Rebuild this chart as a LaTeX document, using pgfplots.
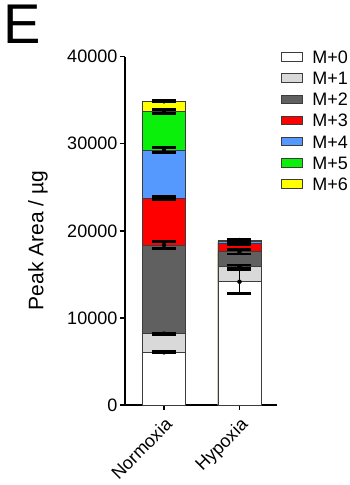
\documentclass[border=0pt]{standalone}
\usepackage{fontspec}
\setmainfont{Liberation Sans}
\usepackage{pgfplots}
\pgfplotsset{compat=1.18}
\definecolor{mzero}{RGB}{255,255,255}
\definecolor{mone}{RGB}{217,217,217}
\definecolor{mtwo}{RGB}{96,96,96}
\definecolor{mthree}{RGB}{255,0,0}
\definecolor{mfour}{RGB}{85,153,255}
\definecolor{mfive}{RGB}{10,240,10}
\definecolor{msix}{RGB}{255,255,0}
\definecolor{edge}{RGB}{60,60,60}
\pgfplotsset{
  mybar/.style={fill=#1, draw=edge, line width=0.8pt, bar shift=0pt},
}
\begin{document}
\begin{tikzpicture}
\useasboundingbox (0pt,0pt) rectangle (350pt,485pt);
\node[anchor=north west, inner sep=0pt, font=\fontsize{56}{56}\selectfont] at (3.5pt,480pt) {E};
\begin{axis}[
  at={(125pt,80pt)}, anchor=south west,
  scale only axis, width=152pt, height=348.3pt,
  xmin=-0.5166, xmax=1.4967, ymin=0, ymax=40000,
  axis lines=left,
  axis line style={-, line width=1.4pt, black},
  ybar, bar width=43pt,
  xtick={0,1}, xticklabels={Normoxia,Hypoxia},
  ytick={0,10000,20000,30000,40000},
  scaled y ticks=false,
  tick align=outside, major tick length=5pt,
  tick style={line width=1.4pt, black},
  yticklabel style={font=\fontsize{18}{18}\selectfont, inner sep=2.5pt,
    /pgf/number format/1000 sep={}, /pgf/number format/assume math mode=true},
  xticklabel style={font=\fontsize{18}{18}\selectfont, rotate=45, anchor=north east, inner sep=2pt, xshift=-2.5pt, yshift=-2.5pt},
  ylabel={Peak Area / µg},
  ylabel style={font=\fontsize{21}{21}\selectfont, at={(axis description cs:-0.573,0.472)}, anchor=center},
  legend image code/.code={\draw[#1] (0pt,-4.2pt) rectangle (21pt,4.2pt);},
  reverse legend,
  legend style={at={(axis description cs:1.026,1.0187)}, anchor=north west,
    draw=none, fill=none, inner sep=0pt, row sep=8.2pt,
    font=\fontsize{18}{18}\selectfont,
    nodes={inner sep=0pt, text height=13pt, text depth=0pt},
    /tikz/every odd column/.append style={column sep=9.5pt},
    cells={anchor=west}},
  legend cell align=left,
  clip=false,
]
% cumulative tops of the stacked segments
\addplot[mybar=msix] coordinates {(0,34880) (1,18940)};
\addplot[mybar=mfive] coordinates {(0,33700) (1,18880)};
\addplot[mybar=mfour] coordinates {(0,29280) (1,18800)};
\addplot[mybar=mthree] coordinates {(0,23770) (1,18560)};
\addplot[mybar=mtwo] coordinates {(0,18370) (1,17600)};
\addplot[mybar=mone] coordinates {(0,8190) (1,15880)};
\addplot[mybar=mzero] coordinates {(0,6050) (1,14160)};
\legend{M+6,M+5,M+4,M+3,M+2,M+1,M+0}
% error bars
\addplot[forget plot, only marks, mark=none, bar shift=0pt,
  error bars/.cd, y dir=both, y explicit,
  error bar style={line width=1.3pt, black},
  error mark options={line width=2.5pt, mark size=12pt, black, rotate=90}]
  table[x=x, y=y, y error=e] {
x y e
0 6050 100
0 8190 80
0 18370 400
0 23770 150
0 29280 300
0 33700 250
0 34880 100
1 14160 1350
1 15880 200
1 17600 250
1 18560 150
1 18800 100
1 18880 100
1 18940 150
};
\end{axis}
\end{tikzpicture}
\end{document}
